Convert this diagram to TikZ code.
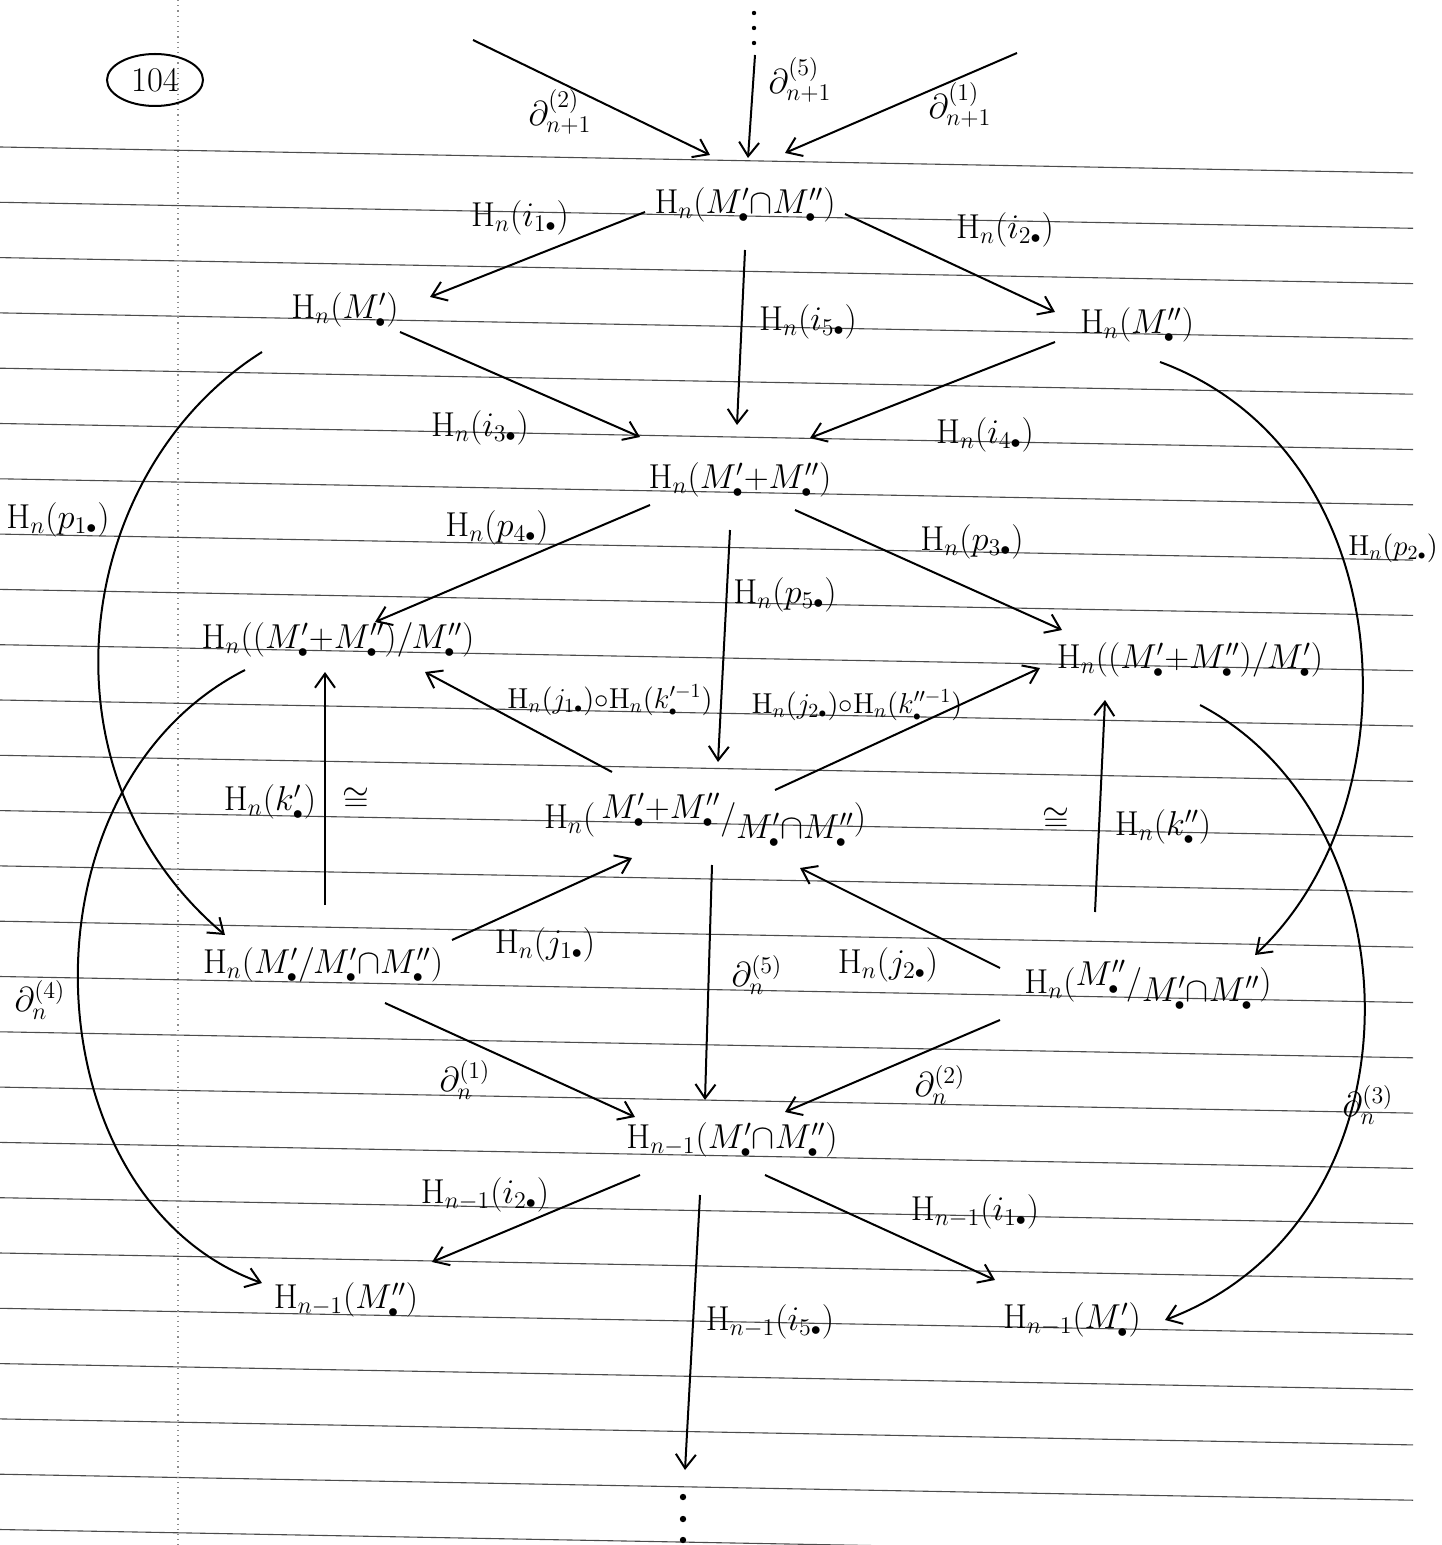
\documentclass[tikz,border=0pt]{standalone}
\usetikzlibrary{arrows.meta,calc,shapes.geometric}
\newcommand\Hm{\mathrm{H}}
\newcommand\dotb{{\scriptscriptstyle\bullet}}
\begin{document}
\begin{tikzpicture}[x=0.5pt,y=-0.5pt,
  obj/.style={inner sep=0pt, font=\LARGE},
  lab/.style={inner sep=0pt, font=\LARGE},
  slab/.style={inner sep=0pt, font=\Large},
  arr/.style={-{Straight Barb[length=7pt,width=10pt]}, line width=1pt},
  rulel/.style={black!70, line width=0.55pt},
  marginl/.style={black!45, line width=0.6pt, dotted}]
\useasboundingbox (0,0) rectangle (1441,1545);
\fill[white] (0,0) rectangle (1441,1545);
% ruled paper
\foreach \k in {0,...,25} \draw[rulel] (0,{147+55.3*\k}) -- (1413,{173+55.3*\k});
\draw[marginl] (178,0) -- (178,1545);
% page number
\node[draw, ellipse, line width=1pt, minimum width=48pt, minimum height=26pt, inner sep=0pt, font=\LARGE] (pg) at (155,80) {104};
% objects
\node[obj] (A) at (745,205) {$\Hm_n(M'_\dotb{\cap}M''_\dotb)$};
\node[obj] (B) at (345,310) {$\Hm_n(M'_\dotb)$};
\node[obj] (C) at (1137,325) {$\Hm_n(M''_\dotb)$};
\node[obj] (D) at (740,480) {$\Hm_n(M'_\dotb{+}M''_\dotb)$};
\node[obj] (E) at (338,640) {$\Hm_n((M'_\dotb{+}M''_\dotb)/M''_\dotb)$};
\node[obj] (F) at (1190,660) {$\Hm_n((M'_\dotb{+}M''_\dotb)/M'_\dotb)$};
\node[obj] (G) at (705,820) {$\Hm_n\bigl(\,\raisebox{5pt}{$M'_\dotb{+}M''_\dotb$}\big/\raisebox{-5pt}{$M'_\dotb{\cap}M''_\dotb$}\bigr)$};
\node[obj] (H) at (323,965) {$\Hm_n(M'_\dotb/M'_\dotb{\cap}M''_\dotb)$};
\node[obj] (I) at (1148,985) {$\Hm_n\bigl(\raisebox{4pt}{$M''_\dotb$}\big/\raisebox{-4pt}{$M'_\dotb{\cap}M''_\dotb$}\bigr)$};
\node[obj] (J) at (732,1140) {$\Hm_{n-1}(M'_\dotb{\cap}M''_\dotb)$};
\node[obj] (K) at (346,1300) {$\Hm_{n-1}(M''_\dotb)$};
\node[obj] (L) at (1072,1320) {$\Hm_{n-1}(M'_\dotb)$};
% free ends
\coordinate (t2) at (473,40);
\coordinate (t5) at (755,55);
\coordinate (t1) at (1017,53);
\coordinate (bot) at (685,1470);
\foreach \yy in {13,28,43} \fill (754,\yy) circle (2.2);
\foreach \yy in {1497,1519,1540} \fill (683,\yy) circle (3.2);
% top arrows
\draw[arr] (t2) -- ($(A)+(-35,-50)$);
\draw[arr] (t5) -- ($(A)+(3,-47)$);
\draw[arr] (t1) -- ($(A)+(40,-52)$);
% straight arrows
\draw[arr] ($(A)+(-100,7)$) -- ($(B)+(85,-13)$);
\draw[arr] ($(A)+(100,9)$) -- ($(C)+(-82,-13)$);
\draw[arr] ($(A)+(0,45)$) -- ($(D)+(-3,-55)$);
\draw[arr] ($(B)+(55,22)$) -- ($(D)+(-100,-43)$);
\draw[arr] ($(C)+(-82,17)$) -- ($(D)+(70,-42)$);
\draw[arr] ($(D)+(-90,25)$) -- ($(E)+(37,-18)$);
\draw[arr] ($(D)+(55,30)$) -- ($(F)+(-128,-30)$);
\draw[arr] ($(D)+(-10,50)$) -- ($(G)+(13,-58)$);
\draw[arr] ($(G)+(-93,-48)$) -- ($(E)+(87,32)$);
\draw[arr] ($(G)+(70,-30)$) -- ($(F)+(-150,8)$);
\draw[arr] ($(H)+(2,-60)$) -- ($(E)+(-13,32)$);
\draw[arr] ($(I)+(-53,-73)$) -- ($(F)+(-85,40)$);
\draw[arr] ($(H)+(129,-25)$) -- ($(G)+(-73,38)$);
\draw[arr] ($(I)+(-148,-17)$) -- ($(G)+(95,48)$);
\draw[arr] ($(G)+(7,45)$) -- ($(J)+(-27,-40)$);
\draw[arr] ($(H)+(62,38)$) -- ($(J)+(-97,-23)$);
\draw[arr] ($(I)+(-148,35)$) -- ($(J)+(53,-28)$);
\draw[arr] ($(J)+(-92,35)$) -- ($(K)+(86,-38)$);
\draw[arr] ($(J)+(33,35)$) -- ($(L)+(-77,-40)$);
\draw[arr] ($(J)+(-32,55)$) -- (bot);
% long curved arrows
\draw[arr] ($(B)+(-83,42)$) .. controls (75,470) and (30,770) .. ($(H)+(-98,-30)$);
\draw[arr] ($(C)+(23,37)$) .. controls (1400,450) and (1420,800) .. ($(I)+(107,-30)$);
\draw[arr] ($(E)+(-93,30)$) .. controls (10,790) and (30,1200) .. ($(K)+(-84,-17)$);
\draw[arr] ($(F)+(10,45)$) .. controls (1420,820) and (1430,1220) .. ($(L)+(93,0)$);
% labels
\node[lab] (l1) at (560,112) {$\partial^{(2)}_{n+1}$};
\node[lab] (l2) at (800,80) {$\partial^{(5)}_{n+1}$};
\node[lab] (l3) at (960,105) {$\partial^{(1)}_{n+1}$};
\node[lab] (l4) at (520,218) {$\Hm_n(i_{1\dotb})$};
\node[lab] (l5) at (1005,230) {$\Hm_n(i_{2\dotb})$};
\node[lab] (l6) at (808,322) {$\Hm_n(i_{5\dotb})$};
\node[lab] (l7) at (480,428) {$\Hm_n(i_{3\dotb})$};
\node[lab] (l8) at (985,435) {$\Hm_n(i_{4\dotb})$};
\node[lab] (l9) at (58,520) {$\Hm_n(p_{1\dotb})$};
\node[lab] (l10) at (497,528) {$\Hm_n(p_{4\dotb})$};
\node[lab] (l11) at (972,542) {$\Hm_n(p_{3\dotb})$};
\node[lab] (l12) at (785,595) {$\Hm_n(p_{5\dotb})$};
\node[slab] (l13) at (1393,548) {$\Hm_n(p_{2\dotb})$};
\node[slab] (l14) at (610,700) {$\Hm_n(j_{1\dotb}){\circ}\Hm_n(k'^{-1}_\dotb)$};
\node[slab] (l15) at (857,705) {$\Hm_n(j_{2\dotb}){\circ}\Hm_n(k''^{-1}_\dotb)$};
\node[lab] (l16) at (270,802) {$\Hm_n(k'_\dotb)$};
\node[lab] (l17) at (356,800) {$\cong$};
\node[lab] (l18) at (1056,820) {$\cong$};
\node[lab] (l19) at (1163,827) {$\Hm_n(k''_\dotb)$};
\node[lab] (l20) at (545,945) {$\Hm_n(j_{1\dotb})$};
\node[lab] (l21) at (888,965) {$\Hm_n(j_{2\dotb})$};
\node[lab] (l22) at (757,975) {$\partial^{(5)}_n$};
\node[lab] (l23) at (40,1000) {$\partial^{(4)}_n$};
\node[lab] (l24) at (465,1080) {$\partial^{(1)}_n$};
\node[lab] (l25) at (940,1085) {$\partial^{(2)}_n$};
\node[lab] (l26) at (1368,1105) {$\partial^{(3)}_n$};
\node[lab] (l27) at (485,1195) {$\Hm_{n-1}(i_{2\dotb})$};
\node[lab] (l28) at (975,1212) {$\Hm_{n-1}(i_{1\dotb})$};
\node[lab] (l29) at (770,1322) {$\Hm_{n-1}(i_{5\dotb})$};
\end{tikzpicture}
\end{document}
